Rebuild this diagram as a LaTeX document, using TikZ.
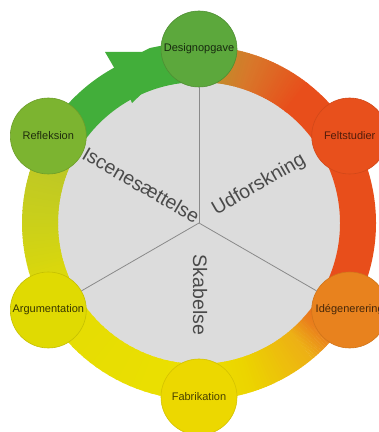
\documentclass[tikz,border=0pt]{standalone}
\usepackage{fontspec}
\setmainfont{Liberation Sans}
\usetikzlibrary{calc}
\definecolor{greyfill}{HTML}{DCDCDC}
\definecolor{sepline}{HTML}{8A8A8A}
\definecolor{ringgreen}{HTML}{42AE3A}
\definecolor{olv}{HTML}{B09A2A}
\definecolor{orgA}{HTML}{D8782A}
\definecolor{redr}{HTML}{E84E1B}
\definecolor{orgB}{HTML}{EA801C}
\definecolor{yorg}{HTML}{EDB015}
\definecolor{ylwA}{HTML}{ECD400}
\definecolor{ylwB}{HTML}{ECE000}
\definecolor{ylwC}{HTML}{E4DC04}
\definecolor{limeA}{HTML}{CAD01A}
\definecolor{limeB}{HTML}{B8C42A}
\definecolor{cdesign}{HTML}{5CA83C}
\definecolor{crefl}{HTML}{7CB430}
\definecolor{cfelt}{HTML}{E8501C}
\definecolor{cide}{HTML}{E8821E}
\definecolor{cfab}{HTML}{ECD800}
\definecolor{carg}{HTML}{E0DA02}
\definecolor{sectxt}{HTML}{4A4A4A}
\newcommand\ringseg[4]{%
  \foreach \t in {0,...,23}{%
    \pgfmathsetmacro\aa{#1+(#2-#1)*\t/24}%
    \pgfmathsetmacro\bb{#1+(#2-#1)*(\t+1.4)/24}%
    \pgfmathtruncatemacro\pp{100*(\t+0.5)/24}%
    \draw[line width=36pt,color=#4!\pp!#3] ($(C)+(\aa:159)$) arc[start angle=\aa,end angle=\bb,radius=159pt];
  }}
\tikzset{
  stage/.style={circle,minimum size=76pt,inner sep=0pt,line width=0.6pt,font=\fontsize{11}{13}\selectfont},
  sector/.style={font=\fontsize{19.5}{22}\selectfont,text=sectxt,inner sep=0pt},
  sep/.style={draw=sepline,line width=0.8pt}
}
\begin{document}
\begin{tikzpicture}[x=1pt,y=1pt]
\useasboundingbox (0,0) rectangle (379,432);
\clip (0,0) rectangle (379,432);
\coordinate (C) at (199,209);
\fill[greyfill] (C) circle[radius=150pt];
% ring
\ringseg{91}{72}{olv}{orgA}
\ringseg{72}{52}{orgA}{redr}
\draw[line width=36pt,redr] ($(C)+(52.5:159)$) arc[start angle=52.5,end angle=-26,radius=159pt];
\ringseg{-26}{-42}{redr}{orgB}
\ringseg{-42}{-50}{orgB}{yorg}
\ringseg{-50}{-72}{yorg}{ylwA}
\ringseg{-72}{-90}{ylwA}{ylwB}
\ringseg{-90}{-150}{ylwB}{ylwC}
\ringseg{-150}{-180}{ylwC}{limeA}
\ringseg{-180}{-210}{limeA}{limeB}
\draw[line width=36pt,ringgreen] ($(C)+(150:159)$) arc[start angle=150,end angle=89,radius=159pt];
% arrow head
\fill[ringgreen] (112,368) -- (105,380) -- (142,380) -- (150,384) -- (190,392) -- (195,352) -- (168,347) -- (152,348) -- (132,329) -- (127,341) -- cycle;
% stages
\node[stage,fill=cdesign,draw=cdesign!85!black,text=cdesign!25!black] (design) at ($(C)+(90:174)$) {Designopgave};
\node[stage,fill=cfelt,draw=cfelt!90!black,text=cfelt!35!black] (felt) at ($(C)+(30:174)$) {Feltstudier};
\node[stage,fill=cide,draw=cide!90!black,text=cide!30!black] (ide) at ($(C)+(-30:174)$) {Idégenerering};
\node[stage,fill=cfab,draw=cfab!90!black,text=cfab!30!black] (fab) at ($(C)+(-90:174)$) {Fabrikation};
\node[stage,fill=carg,draw=carg!88!black,text=carg!25!black] (arg) at ($(C)+(-150:174)$) {Argumentation};
\node[stage,fill=crefl,draw=crefl!88!black,text=crefl!25!black] (refl) at ($(C)+(150:174)$) {Refleksion};
% separators
\draw[sep] (C) -- (design);
\draw[sep] (C) -- (ide);
\draw[sep] (C) -- (arg);
% sector labels
\node[sector,rotate=30] (udf) at ($(C)+(30:71)+(120:3)$) {Udforskning};
\node[sector,rotate=-30] (isc) at ($(C)+(150:69)+(60:4)$) {Iscenesættelse};
\node[sector,rotate=-90] (skab) at ($(C)+(270:72)+(0:1)$) {Skabelse};
\end{tikzpicture}
\end{document}
